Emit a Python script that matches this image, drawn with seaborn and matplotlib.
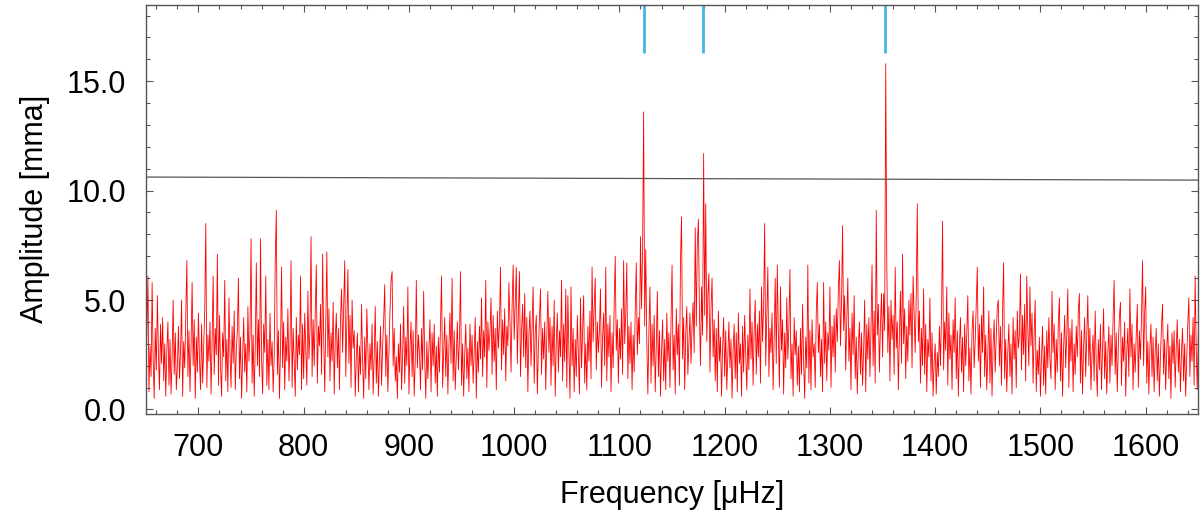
import numpy as np
import pandas as pd
import seaborn as sns
import matplotlib.pyplot as plt
from matplotlib.ticker import MultipleLocator, FormatStrFormatter

# amplitude spectrum, one value per 1 uHz starting at 650 uHz
freq_start = 650.0
freq_step = 1.0
amplitude = [
    1.2, 3.4, 6.1, 0.8, 2.9, 1.5, 5.8, 2.2, 0.5, 3.7, 1.8, 5.2, 2.5, 0.9, 3.9, 2.1, 4.2, 1.3, 3.0, 0.6,  # 650
    2.7, 4.0, 1.1, 3.2, 0.7, 2.4, 5.0, 1.6, 3.5, 0.9, 2.0, 3.8, 1.4, 2.6, 5.0, 0.6, 3.1, 1.9, 4.3, 6.8,  # 670
    1.5, 3.6, 0.8, 2.9, 5.8, 2.0, 4.1, 0.5, 3.3, 1.7, 4.4, 2.3, 0.9, 3.9, 1.2, 2.8, 4.6, 8.5, 1.0, 3.4,  # 690
    2.2, 4.0, 0.7, 3.1, 6.1, 1.6, 3.7, 2.5, 7.1, 1.1, 4.3, 2.0, 0.6, 3.5, 2.4, 5.9, 1.3, 3.2, 0.8, 5.1,  # 710
    2.6, 1.0, 3.8, 2.1, 4.5, 0.9, 2.7, 3.6, 6.0, 1.4, 3.3, 0.5, 2.4, 4.2, 1.7, 3.0, 0.8, 4.7, 2.2, 3.5,  # 730
    7.8, 1.2, 3.4, 0.6, 2.9, 6.7, 2.0, 4.1, 1.5, 7.8, 2.3, 0.7, 3.9, 2.6, 6.1, 1.1, 3.2, 0.9, 4.4, 2.0,  # 750
    3.1, 0.8, 2.5, 6.9, 9.1, 1.6, 3.6, 0.5, 2.8, 6.5, 1.9, 4.0, 0.9, 3.3, 2.2, 4.6, 1.3, 3.0, 6.8, 1.0,  # 770
    3.7, 2.1, 0.6, 4.2, 1.8, 3.4, 2.5, 6.1, 0.9, 3.9, 1.4, 4.4, 2.7, 1.1, 5.4, 2.3, 3.6, 7.9, 1.5, 4.1,  # 790
    2.0, 4.5, 6.6, 1.2, 3.8, 2.9, 4.8, 1.6, 7.1, 3.3, 0.8, 4.0, 7.2, 2.4, 4.6, 1.3, 3.5, 2.2, 4.9, 0.7,  # 810
    3.2, 4.4, 1.9, 3.7, 0.9, 4.2, 5.5, 2.6, 4.7, 6.8, 1.5, 3.9, 6.4, 2.1, 4.3, 1.0, 5.0, 2.8, 3.6, 0.6,  # 830
    2.4, 3.5, 0.8, 2.9, 1.6, 4.8, 2.2, 0.5, 3.3, 1.4, 4.6, 2.7, 0.9, 3.0, 1.8, 3.9, 0.7, 2.5, 4.7, 1.2,  # 850
    3.1, 0.6, 2.3, 3.8, 1.1, 2.9, 4.1, 5.7, 1.5, 3.4, 0.8, 2.6, 4.5, 5.9, 6.3, 2.0, 3.7, 1.3, 2.4, 0.5,  # 870
    3.0, 1.7, 3.9, 0.9, 2.5, 4.7, 1.2, 3.3, 2.0, 5.6, 0.7, 2.8, 4.0, 1.5, 3.6, 0.6, 2.2, 5.9, 1.9, 3.4,  # 890
    2.6, 0.9, 3.7, 1.8, 5.4, 2.3, 0.5, 3.1, 1.4, 2.7, 4.1, 0.8, 3.5, 2.0, 3.9, 1.2, 2.9, 0.6, 3.3, 1.7,  # 910
    3.8, 6.1, 1.0, 2.6, 4.2, 1.5, 3.4, 0.7, 2.9, 4.4, 2.1, 6.0, 1.3, 3.6, 0.9, 2.4, 4.0, 1.8, 3.2, 6.3,  # 930
    1.1, 3.0, 0.6, 2.5, 3.9, 1.4, 2.8, 0.8, 3.9, 2.0, 3.4, 1.2, 2.6, 4.2, 0.5, 3.1, 1.7, 3.8, 2.3, 5.1,  # 950
    1.5, 3.6, 2.4, 5.9, 1.0, 4.0, 2.7, 3.5, 5.1, 1.6, 4.3, 2.2, 3.7, 0.9, 4.5, 2.8, 3.9, 6.5, 1.8, 4.1,  # 970
    2.5, 4.6, 1.3, 3.8, 2.9, 5.8, 4.0, 1.7, 4.7, 6.6, 3.2, 4.9, 6.5, 2.1, 4.4, 6.3, 1.5, 3.6, 4.8, 2.4,  # 990
    5.3, 1.9, 4.2, 0.8, 3.4, 4.5, 2.0, 3.9, 5.6, 1.2, 3.5, 4.3, 0.7, 2.8, 4.1, 5.5, 1.6, 3.7, 2.3, 4.0,  # 1010
    0.9, 3.3, 5.4, 2.6, 4.2, 1.1, 3.8, 2.0, 5.0, 0.6, 3.1, 4.4, 1.7, 3.6, 2.4, 5.9, 1.3, 3.9, 2.2, 5.5,  # 1030
    1.0, 5.2, 2.7, 0.5, 5.6, 2.0, 3.7, 0.8, 3.2, 1.5, 4.3, 2.4, 0.7, 5.1, 1.9, 3.5, 5.2, 1.2, 3.0, 0.9,  # 1050
    3.8, 2.2, 4.5, 1.4, 6.5, 3.1, 4.7, 6.0, 1.8, 4.0, 2.6, 3.6, 5.5, 1.0, 3.3, 4.4, 2.0, 6.5, 1.3, 3.9,  # 1070
    2.4, 4.3, 0.8, 3.5, 1.9, 4.8, 7.0, 2.7, 4.1, 1.2, 3.7, 2.3, 4.6, 1.6, 6.8, 3.0, 4.4, 6.7, 1.4, 3.8,  # 1090
    2.1, 4.0, 0.9, 3.4, 1.7, 4.5, 6.7, 2.5, 4.2, 3.0, 7.9, 4.6, 7.2, 13.6, 3.8, 7.3, 3.1, 0.7, 3.6, 5.6,  # 1110
    1.2, 3.9, 2.0, 4.3, 0.8, 2.9, 5.4, 1.5, 3.6, 0.6, 2.7, 4.1, 1.3, 3.2, 0.9, 4.4, 2.2, 3.5, 1.0, 4.0,  # 1130
    6.6, 1.8, 3.4, 0.7, 4.6, 2.5, 3.9, 1.1, 6.8, 8.8, 2.3, 4.2, 0.9, 3.5, 4.7, 1.6, 3.0, 4.4, 2.1, 3.8,  # 1150
    4.9, 2.6, 8.3, 3.8, 7.6, 8.7, 4.5, 2.0, 5.6, 3.4, 11.7, 4.3, 9.4, 3.1, 5.2, 6.2, 1.7, 4.6, 6.0, 2.4,  # 1170
    4.1, 1.3, 3.7, 0.8, 4.5, 2.2, 3.3, 0.6, 2.8, 4.2, 1.5, 3.6, 0.9, 2.5, 4.0, 1.9, 3.2, 0.5, 2.7, 3.9,  # 1190
    1.4, 3.5, 0.8, 4.4, 2.1, 3.0, 0.6, 3.8, 1.7, 4.3, 2.5, 0.9, 3.4, 1.8, 5.5, 2.3, 4.0, 1.1, 3.6, 5.0,  # 1210
    1.6, 3.9, 2.4, 4.5, 1.2, 5.6, 3.1, 4.7, 8.5, 2.0, 4.2, 6.5, 1.5, 3.7, 2.6, 4.4, 0.9, 3.3, 6.0, 2.1,  # 1230
    6.6, 3.4, 1.0, 5.6, 2.7, 4.1, 0.7, 3.5, 1.9, 5.1, 2.3, 3.8, 6.4, 1.4, 3.0, 0.6, 4.2, 2.5, 3.6, 1.1,  # 1250
    2.9, 0.8, 3.7, 1.6, 4.8, 2.2, 0.5, 3.3, 1.9, 6.6, 1.2, 3.6, 0.9, 4.1, 2.4, 3.0, 1.0, 4.4, 5.8, 2.6,  # 1270
    3.9, 1.5, 3.2, 0.8, 5.8, 2.1, 4.0, 1.3, 3.5, 2.7, 5.6, 1.0, 3.8, 2.4, 4.3, 1.7, 4.6, 3.1, 5.5, 6.8,  # 1290
    2.9, 4.9, 8.4, 3.6, 5.2, 1.8, 4.1, 6.0, 2.2, 3.7, 0.9, 4.4, 2.5, 5.2, 1.4, 3.3, 0.7, 2.8, 4.0, 1.6,  # 1310
    3.5, 1.1, 2.7, 5.0, 0.8, 3.9, 2.3, 4.2, 1.5, 3.6, 6.6, 2.0, 4.5, 1.2, 9.1, 3.4, 4.8, 1.7, 3.9, 5.3,  # 1330
    2.4, 5.3, 3.6, 15.8, 6.8, 2.6, 4.7, 1.3, 5.0, 3.2, 4.3, 1.6, 6.5, 2.8, 4.0, 0.9, 3.5, 5.4, 2.1, 7.1,  # 1350
    3.0, 4.6, 1.4, 3.8, 2.2, 5.0, 3.4, 5.3, 1.9, 6.1, 4.4, 2.6, 5.2, 9.4, 3.1, 4.5, 1.2, 3.7, 2.0, 5.5,  # 1370
    1.6, 3.9, 0.8, 3.2, 2.4, 5.1, 1.3, 3.5, 0.6, 2.2, 3.0, 0.7, 2.6, 1.5, 3.8, 2.0, 4.3, 8.6, 1.8, 4.0,  # 1390
    2.7, 5.6, 1.1, 4.4, 2.3, 3.4, 0.9, 4.1, 2.6, 5.1, 1.4, 3.6, 0.6, 2.9, 4.2, 1.7, 3.3, 0.8, 3.9, 2.0,  # 1410
    3.5, 5.2, 1.3, 2.8, 0.7, 3.6, 4.5, 1.9, 3.1, 4.8, 6.5, 2.2, 3.9, 1.0, 4.3, 2.6, 5.6, 1.5, 3.4, 0.9,  # 1430
    2.5, 4.5, 1.2, 3.7, 0.6, 2.9, 4.1, 1.7, 3.3, 4.7, 5.0, 2.0, 3.8, 1.1, 4.4, 6.7, 1.4, 3.2, 0.8, 2.6,  # 1450
    3.9, 1.5, 3.0, 0.7, 4.2, 2.3, 3.6, 1.0, 4.5, 2.8, 3.4, 6.2, 1.8, 4.3, 2.5, 4.8, 1.3, 6.1, 3.7, 2.0,  # 1470
    5.6, 2.9, 4.4, 1.2, 3.5, 5.0, 0.8, 2.7, 1.6, 3.3, 0.6, 2.4, 3.8, 1.1, 2.9, 0.7, 3.6, 1.9, 4.2, 2.3,  # 1490
    1.4, 5.4, 2.6, 3.9, 0.9, 3.2, 1.7, 4.0, 5.1, 1.3, 3.5, 0.6, 2.8, 4.3, 1.9, 3.4, 5.5, 1.0, 3.7, 2.2,  # 1510
    4.1, 0.8, 3.0, 1.6, 3.8, 2.4, 4.5, 5.3, 1.2, 3.6, 0.7, 2.9, 4.2, 1.5, 3.3, 5.2, 2.0, 3.7, 0.9, 2.5,  # 1530
    3.4, 1.3, 4.5, 2.1, 0.6, 3.2, 1.8, 3.9, 0.9, 2.7, 4.6, 1.4, 3.1, 0.7, 2.5, 3.8, 1.2, 3.4, 2.0, 4.1,  # 1550
    5.9, 1.6, 3.5, 0.8, 2.9, 4.2, 4.9, 1.1, 3.3, 2.2, 4.0, 0.6, 2.6, 3.7, 1.5, 5.5, 2.4, 3.9, 0.9, 3.0,  # 1570
    1.7, 3.4, 4.8, 1.0, 3.6, 2.3, 4.2, 6.8, 2.0, 4.4, 5.6, 1.2, 3.1, 0.7, 2.8, 3.9, 1.5, 3.3, 0.8, 2.6,  # 1590
    3.7, 1.3, 3.0, 0.6, 2.4, 3.8, 4.8, 1.6, 3.2, 0.9, 2.7, 3.9, 1.4, 2.9, 0.5, 3.5, 2.1, 3.6, 1.0, 2.8,  # 1610
    4.1, 1.7, 3.2, 0.8, 2.6, 3.7, 1.3, 3.0, 0.6, 2.4, 3.9, 5.1, 1.5, 3.4, 2.2, 4.2, 1.1, 6.1, 2.7, 0.9,  # 1630
    3.5,  # 1650
]

# detection threshold (slightly sloped line)
threshold_freq = [650, 1650]
threshold_amp = [10.62, 10.48]

# identified modes marked at the top
mode_freqs = [1123.3, 1179.7, 1352.6]

freq = freq_start + freq_step * np.arange(len(amplitude))
spec = pd.DataFrame({"freq": freq, "amp": amplitude})

sns.set_theme(style="ticks")
plt.rcParams["font.family"] = ["Liberation Sans", "DejaVu Sans"]
plt.rcParams["text.color"] = "black"
plt.rcParams["axes.labelcolor"] = "black"

fig = plt.figure(figsize=(12, 5.18), dpi=100)
ax = fig.add_axes([0.1215, 0.2008, 0.8771, 0.7902])

sns.lineplot(data=spec, x="freq", y="amp", ax=ax, color="#ff0000",
             linewidth=0.6, estimator=None, sort=False)
ax.plot(threshold_freq, threshold_amp, color="#555555", linewidth=0.9)
ax.vlines(mode_freqs, 16.28, 18.5, color="#45b4e6", linewidth=2.0)

ax.set_xlim(650, 1650)
ax.set_ylim(-0.21, 18.5)
ax.xaxis.set_major_locator(MultipleLocator(100))
ax.xaxis.set_minor_locator(MultipleLocator(20))
ax.yaxis.set_major_locator(MultipleLocator(5))
ax.yaxis.set_minor_locator(MultipleLocator(1))
ax.yaxis.set_major_formatter(FormatStrFormatter("%.1f"))

ax.tick_params(which="both", direction="in", top=True, right=True,
               color="#555555", width=0.8, labelcolor="black")
ax.tick_params(which="major", length=5, labelsize=22)
ax.tick_params(which="minor", length=3)
ax.tick_params(axis="x", pad=14)
ax.tick_params(axis="y", pad=14)
for s in ax.spines.values():
    s.set_color("#555555")
    s.set_linewidth(1.0)

ax.set_xlabel("Frequency [μHz]", fontsize=22, labelpad=12)
ax.set_ylabel("Amplitude [mma]", fontsize=22, labelpad=12)

fig.savefig("out.png", dpi=100)
